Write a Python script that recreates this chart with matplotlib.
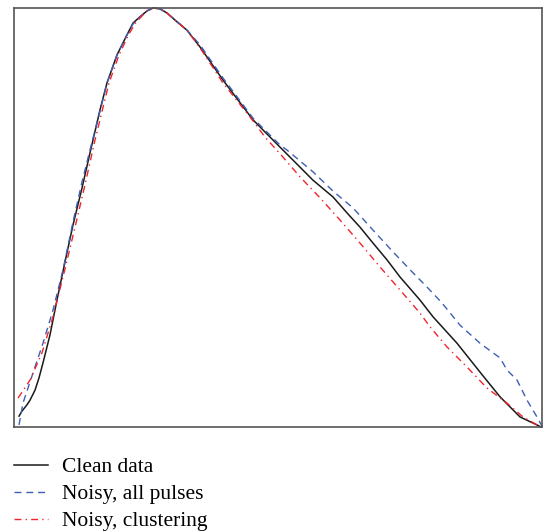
import numpy as np
import matplotlib.pyplot as plt

# normalised time (0-100) and normalised amplitude
clean_t = [0.95, 1.52, 2.46, 3.03, 3.98, 4.73, 5.49, 6.82, 8.14, 9.66, 11.17, 12.88, 14.39,
           16.29, 17.61, 19.51, 21.40, 22.54, 23.86, 25.19, 26.33, 27.65, 28.98, 30.87,
           32.77, 35.23, 39.58, 45.27, 50.38, 52.84, 56.63, 60.42, 63.07, 65.53, 67.99,
           70.64, 73.11, 76.89, 79.36, 83.90, 88.26, 92.05, 95.83, 99.05, 99.81]
clean_y = [0.026, 0.038, 0.053, 0.064, 0.088, 0.117, 0.153, 0.220, 0.303, 0.394, 0.482, 0.570,
           0.654, 0.757, 0.821, 0.888, 0.936, 0.964, 0.979, 0.993, 1.000, 0.998, 0.988,
           0.967, 0.947, 0.907, 0.828, 0.733, 0.668, 0.637, 0.589, 0.549, 0.511, 0.477,
           0.439, 0.399, 0.358, 0.303, 0.263, 0.200, 0.131, 0.072, 0.024, 0.005, 0.000]

allp_t = [0.95, 1.70, 3.60, 5.49, 7.39, 9.28, 11.17, 12.88, 14.39, 16.29, 17.61, 19.51,
          21.40, 22.54, 23.86, 25.19, 26.33, 27.65, 28.98, 30.87, 32.77, 35.23, 39.58,
          45.27, 50.38, 51.70, 52.84, 56.63, 60.42, 64.20, 67.99, 71.78, 75.57, 78.22,
          81.06, 84.47, 88.26, 90.72, 92.05, 93.37, 95.27, 97.16, 99.05, 100.0]
allp_y = [0.005, 0.057, 0.129, 0.200, 0.279, 0.375, 0.489, 0.585, 0.661, 0.754, 0.821, 0.888,
          0.936, 0.962, 0.979, 0.993, 1.000, 0.998, 0.988, 0.968, 0.947, 0.912, 0.833,
          0.737, 0.673, 0.661, 0.649, 0.609, 0.563, 0.523, 0.470, 0.418, 0.368, 0.334,
          0.296, 0.243, 0.200, 0.177, 0.165, 0.136, 0.112, 0.064, 0.024, 0.002]

clus_t = [0.76, 1.14, 3.03, 5.30, 7.39, 9.85, 11.65, 13.45, 15.25, 17.99, 19.89, 21.69,
          23.00, 24.24, 25.19, 26.33, 27.65, 28.98, 30.87, 32.77, 35.23, 39.58, 44.70,
          47.54, 50.95, 54.17, 57.95, 61.74, 65.53, 69.32, 73.11, 76.89, 78.79, 82.01,
          85.80, 89.58, 93.37, 96.40, 99.05, 100.0]
clus_y = [0.069, 0.076, 0.112, 0.177, 0.263, 0.387, 0.482, 0.578, 0.680, 0.821, 0.888, 0.936,
          0.964, 0.981, 0.993, 1.000, 0.998, 0.988, 0.967, 0.947, 0.905, 0.821, 0.740,
          0.692, 0.644, 0.597, 0.547, 0.494, 0.439, 0.382, 0.327, 0.272, 0.239, 0.191,
          0.143, 0.093, 0.057, 0.024, 0.005, 0.000]

labels = ["Clean data", "Noisy, all pulses", "Noisy, clustering"]

fig = plt.figure(figsize=(5.44, 5.31), dpi=100)
ax = fig.add_axes([14 / 544, 1 - 427 / 531, 528 / 544, 419 / 531])

l1, = ax.plot(clean_t, clean_y, color="#1a1a1a", lw=1.1, clip_on=False)
l2, = ax.plot(allp_t, allp_y, color="#3f5fb5", lw=1.0, ls=(0, (5, 3.5)), clip_on=False)
l3, = ax.plot(clus_t, clus_y, color="#f0242c", lw=1.0, ls=(0, (5, 3, 1, 3)), clip_on=False)

ax.set_xlim(0, 100)
ax.set_ylim(0, 1)
ax.set_xticks([])
ax.set_yticks([])
for s in ax.spines.values():
    s.set_color("#555555")
    s.set_linewidth(1.2)

fig.legend([l1, l2, l3], labels, loc="upper left", bbox_to_anchor=(14 / 544, 1 - 457 / 531),
           frameon=False, borderpad=0, borderaxespad=0, handlelength=1.6, handletextpad=0.65,
           labelspacing=0.33, prop={"family": "Liberation Serif", "size": 15.5})

fig.savefig("out.png", dpi=100)
